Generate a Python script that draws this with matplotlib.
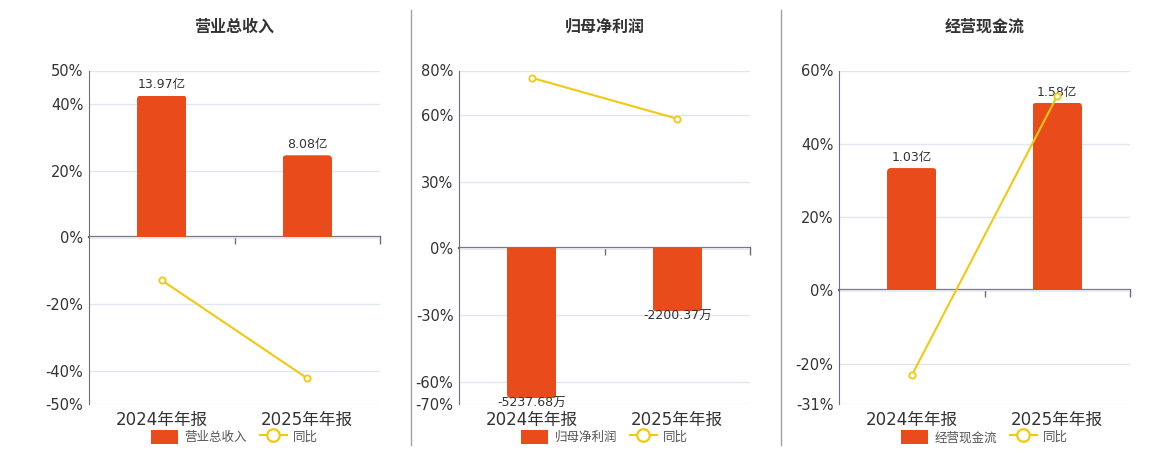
import matplotlib
matplotlib.use("Agg")
import matplotlib.pyplot as plt
from matplotlib.lines import Line2D
from matplotlib.patches import Patch, FancyBboxPatch

plt.rcParams['font.family'] = ['DejaVu Sans', 'Noto Sans CJK SC']

categories = ['2024年年报', '2025年年报']

titles = ['营业总收入', '归母净利润', '经营现金流']
bar_values = [[13.97, 8.08], [-5237.68, -2200.37], [1.03, 1.58]]
bar_labels = [['13.97亿', '8.08亿'], ['-5237.68万', '-2200.37万'], ['1.03亿', '1.58亿']]
yoy_values = [[-12.9, -42.3], [76.7, 58.3], [-23.2, 53.1]]

y_ticks = [[-50, -40, -20, 0, 20, 40, 50],
           [-70, -60, -30, 0, 30, 60, 80],
           [-31, -20, 0, 20, 40, 60]]
# percent position where the largest bar end sits (hidden bar axis scale)
bar_peak_pct = [42.5, 67.4, 51.2]

BAR = '#E94B1B'
LINE = '#F2C811'
AXIS = '#6E7079'
GRID = '#E0E6F1'
TEXT = '#333333'

fig = plt.figure(figsize=(11.6, 4.5), dpi=100)

panel_lefts = [89, 459, 839]
panel_width = 291
top_px, bottom_px = 70.5, 404

for i in range(3):
    left = panel_lefts[i] / 1160
    bottom = 1 - bottom_px / 450
    ax = fig.add_axes([left, bottom, panel_width / 1160, (bottom_px - top_px) / 450])
    ymin, ymax = y_ticks[i][0], y_ticks[i][-1]
    ax.set_xlim(-0.5, 1.5)
    ax.set_ylim(ymin, ymax)
    ax.set_yticks(y_ticks[i])
    ax.set_yticklabels(['%d%%' % t for t in y_ticks[i]])
    ax.grid(axis='y', color=GRID, linewidth=1)
    ax.set_axisbelow(True)
    ax.tick_params(axis='y', length=0, labelsize=10.5, labelcolor=TEXT, pad=4)
    ax.set_xticks(range(len(categories)))
    ax.set_xticklabels(categories)
    ax.tick_params(axis='x', length=0, labelsize=12, labelcolor=TEXT, pad=5)
    for s in ['top', 'right', 'bottom']:
        ax.spines[s].set_visible(False)
    ax.spines['left'].set_color(AXIS)
    ax.set_title(titles[i], fontsize=11.5, fontweight='bold', color=TEXT, pad=28)

    zero_frac = (0 - ymin) / (ymax - ymin)
    sec = ax.secondary_xaxis(zero_frac)
    sec.xaxis.set_ticks_position('bottom')
    sec.set_xticks([0.5, 1.5])
    sec.set_xticklabels([])
    sec.tick_params(axis='x', length=5, color=AXIS, width=1, direction='out')
    for s in ['top', 'bottom']:
        sec.spines[s].set_color('#5E6068')
        sec.spines[s].set_linewidth(1.6)
        sec.spines[s].set_zorder(6)

    # hidden axis for bars, zero aligned with the percent axis
    ax2 = ax.twinx()
    vals = bar_values[i]
    peak = max(abs(v) for v in vals)
    scale = peak / bar_peak_pct[i]
    ax2.set_ylim(ymin * scale, ymax * scale)
    ax2.set_yticks([])
    for s in ['top', 'right', 'bottom', 'left']:
        ax2.spines[s].set_visible(False)

    bars = ax2.bar(range(len(categories)), vals, width=0.34, color='none', edgecolor='none')
    x_pp = 2 / panel_width
    y_pp = (ax2.get_ylim()[1] - ax2.get_ylim()[0]) / (bottom_px - top_px)
    r = 4 * x_pp
    for b in bars:
        x0, w = b.get_x(), b.get_width()
        h = b.get_height()
        ext = 6 * y_pp
        if h >= 0:
            y0, hh = -ext, h + ext
        else:
            y0, hh = h, -h + ext
        p = FancyBboxPatch((x0, y0), w, hh,
                           boxstyle='round,pad=0,rounding_size=%f' % r,
                           mutation_aspect=y_pp / x_pp,
                           facecolor=BAR, edgecolor='none', zorder=2)
        ax2.add_patch(p)
        p.set_clip_path(b)
    pad = 3 if vals[0] > 0 else -1
    ax2.bar_label(bars, labels=bar_labels[i], padding=pad, fontsize=9, color=TEXT)

    ax2.plot(range(len(categories)), yoy_values[i], transform=ax.transData,
             color=LINE, linewidth=1.5, marker='o', markersize=4.5,
             markerfacecolor='white', markeredgecolor=LINE, markeredgewidth=1.3,
             zorder=5, clip_on=False)

    handles = [Patch(facecolor=BAR, edgecolor='none'),
               Line2D([0], [0], color=LINE, linewidth=1.5, marker='o', markersize=9,
                      markerfacecolor='white', markeredgecolor=LINE, markeredgewidth=1.6)]
    ax.legend(handles, [titles[i], '同比'], loc='center', bbox_to_anchor=(0.5, -0.099),
              ncol=2, frameon=False, fontsize=9, handlelength=2.2, handleheight=1.4,
              columnspacing=1.0, handletextpad=0.5, labelcolor='#555555')

for xp in [410.5, 780.5]:
    fig.add_artist(Line2D([xp / 1160, xp / 1160], [1 - 10 / 450, 1 - 445 / 450],
                          color='#A0A0A0', linewidth=1))

fig.savefig('out.png', dpi=100, facecolor='white')
